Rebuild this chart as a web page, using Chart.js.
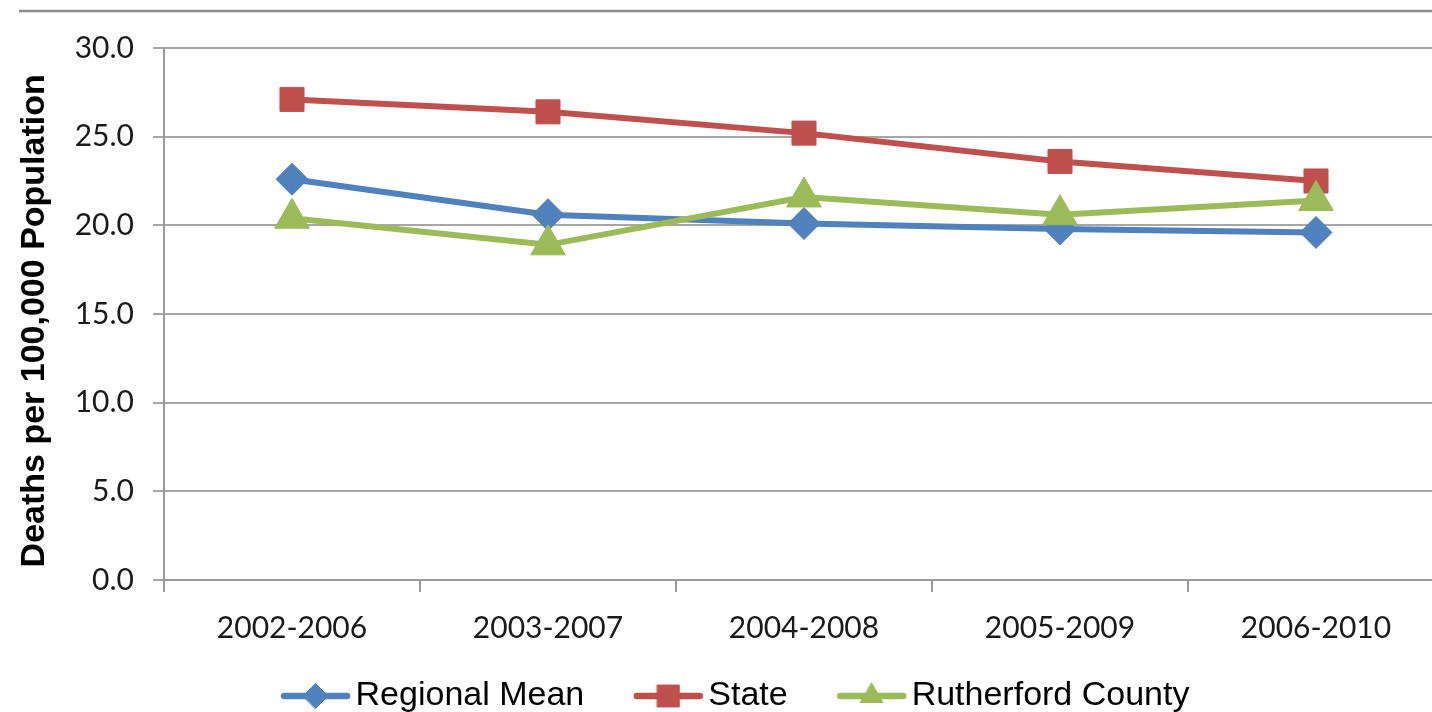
<!DOCTYPE html>
<html>
<head>
<meta charset="utf-8">
<script src="https://cdn.jsdelivr.net/npm/chart.js@4/dist/chart.umd.min.js"></script>
<style>
  html, body { margin: 0; padding: 0; background: #fff; overflow: hidden; }
  #wrap { width: 1432px; height: 712px; overflow: hidden; }
</style>
</head>
<body>
<div id="wrap"><canvas id="chart" width="1465" height="727"></canvas></div>
<script>
// Five-year rolling periods
const periods = ['2002-2006', '2003-2007', '2004-2008', '2005-2009', '2006-2010'];

// Deaths per 100,000 population
const regionalMean = [22.6, 20.6, 20.1, 19.8, 19.6];
const stateRate = [27.1, 26.4, 25.2, 23.6, 22.5];
const rutherfordCounty = [20.4, 18.9, 21.6, 20.6, 21.4];

const seriesNames = ['Regional Mean', 'State', 'Rutherford County'];
const yTicks = { min: 0, max: 30, step: 5 };
const yTitle = 'Deaths per 100,000 Population';

const BLUE = '#4F81BD';
const RED = '#C0504D';
const GREEN = '#9BBB59';

// Legend swatch: a line segment with the series marker, right-aligned in a wider
// transparent canvas so the blank part spaces the legend entries apart.
const SWATCH_BOX = 97;
const SWATCH_W = SWATCH_BOX + 25;
function makeSwatch(color, style, radius) {
  const c = document.createElement('canvas');
  c.width = SWATCH_W; c.height = 34;
  const ctx = c.getContext('2d');
  const x0 = SWATCH_W - 71, x1 = SWATCH_W;
  ctx.strokeStyle = color;
  ctx.lineWidth = 6.5;
  ctx.lineCap = 'round';
  ctx.beginPath();
  ctx.moveTo(x0 + 4, 17); ctx.lineTo(x1 - 4, 17);
  ctx.stroke();
  ctx.fillStyle = color;
  ctx.lineWidth = 1;
  Chart.helpers.drawPoint(ctx, { pointStyle: style, radius: radius, borderWidth: 1, rotation: 0 }, (x0 + x1) / 2, 17);
  return c;
}

// Thin rule across the top of the figure
const topRule = {
  id: 'topRule',
  beforeDraw(chart) {
    const ctx = chart.ctx;
    ctx.save();
    ctx.strokeStyle = '#8c8c8c';
    ctx.lineWidth = 2.5;
    ctx.beginPath();
    ctx.moveTo(19, 11);
    ctx.lineTo(chart.width, 11);
    ctx.stroke();
    ctx.restore();
  }
};

const swatches = [
  makeSwatch(BLUE, 'rectRot', 12.5),
  makeSwatch(RED, 'rect', 15.5),
  makeSwatch(GREEN, 'triangle', 13)
];

new Chart(document.getElementById('chart'), {
  type: 'line',
  data: {
    labels: periods,
    datasets: [
      {
        label: seriesNames[0], data: regionalMean,
        borderColor: BLUE, backgroundColor: BLUE,
        pointStyle: 'rectRot', pointRadius: 16, pointBorderWidth: 1,
        borderWidth: 6, order: 3
      },
      {
        label: seriesNames[1], data: stateRate,
        borderColor: RED, backgroundColor: RED,
        pointStyle: 'rect', pointRadius: 17, pointBorderWidth: 1,
        borderWidth: 6, order: 2
      },
      {
        label: seriesNames[2], data: rutherfordCounty,
        borderColor: GREEN, backgroundColor: GREEN,
        pointStyle: 'triangle', pointRadius: 20, pointBorderWidth: 1,
        borderWidth: 6, order: 1
      }
    ]
  },
  options: {
    responsive: false,
    animation: false,
    layout: { padding: { top: 48, right: 6, bottom: 4, left: -28 } },
    plugins: {
      tooltip: { enabled: false },
      legend: {
        position: 'bottom',
        labels: {
          usePointStyle: true,
          pointStyleWidth: SWATCH_BOX,
          padding: 10,
          color: '#000',
          font: { family: '"Liberation Sans", Arial, sans-serif', size: 34 },
          sort: (a, b) => a.datasetIndex - b.datasetIndex,
          generateLabels(chart) {
            return chart.data.datasets.map((ds, i) => ({
              text: ds.label,
              datasetIndex: i,
              pointStyle: swatches[i],
              fillStyle: ds.backgroundColor,
              strokeStyle: ds.borderColor,
              lineWidth: 0,
              fontColor: '#000',
              hidden: false
            }));
          }
        }
      }
    },
    scales: {
      x: {
        offset: true,
        border: { color: '#999', width: 2 },
        grid: { offset: true, drawOnChartArea: false, drawTicks: true, tickLength: 12, color: '#999', lineWidth: 2 },
        ticks: { color: '#1a1a1a', padding: 18, font: { family: 'Lato, sans-serif', size: 30 } },
        afterFit(scale) { scale.height += 5; }
      },
      y: {
        min: yTicks.min, max: yTicks.max,
        border: { color: '#999', width: 2 },
        grid: { color: '#a6a6a6', lineWidth: 2, tickLength: 11 },
        ticks: {
          stepSize: yTicks.step, color: '#1a1a1a', padding: 19,
          font: { family: 'Lato, sans-serif', size: 30 },
          callback: v => Number(v).toFixed(1)
        },
        title: {
          display: true, text: yTitle + '\u2009\u2009', color: '#000',
          padding: { top: 42, bottom: 0 },
          font: { family: '"Liberation Sans", Arial, sans-serif', size: 34, weight: 'bold' }
        },
        afterFit(scale) { scale.width = 192; }
      }
    }
  },
  plugins: [topRule]
});
</script>
</body>
</html>
